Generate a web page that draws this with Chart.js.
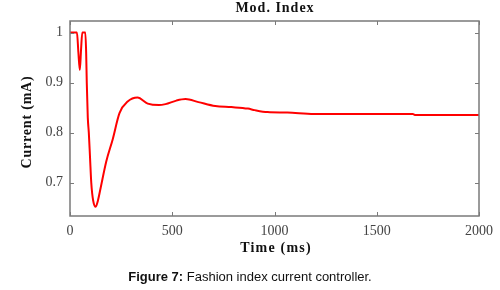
<!DOCTYPE html>
<html>
<head>
<meta charset="utf-8">
<script src="https://cdn.jsdelivr.net/npm/chart.js@4.4.1/dist/chart.umd.min.js"></script>
<style>
    html, body { margin: 0; padding: 0; background: #fff; }
    #wrap { position: relative; width: 500px; height: 290px; }
    #caption {
        position: absolute; left: 0; top: 269px; width: 500px;
        text-align: center; font: 13px "Liberation Sans", Arial, sans-serif; color: #111;
    }
</style>
</head>
<body>
<div id="wrap">
    <canvas id="chart" width="500" height="290"></canvas>
    <div id="caption"><b>Figure 7:</b> Fashion index current controller.</div>
</div>
<script>
// time (ms) and current (mA)
const timeMs = [0, 34, 41, 48, 54, 60, 75, 79, 82, 87, 92, 98, 104, 113, 126, 137, 150, 177, 209, 242, 282, 330, 380, 435, 467, 520, 565, 628, 710, 789, 870, 903, 966, 1063, 1193, 1353, 1676, 1690, 2000];
const currentMa = [1.0, 1.0, 0.96, 0.925, 0.965, 1.0, 1.0, 0.96, 0.9, 0.83, 0.8, 0.75, 0.7, 0.665, 0.652, 0.665, 0.69, 0.742, 0.787, 0.839, 0.862, 0.870, 0.858, 0.855, 0.857, 0.864, 0.867, 0.861, 0.853, 0.851, 0.848, 0.845, 0.841, 0.840, 0.837, 0.837, 0.837, 0.835, 0.835];
const xTicks = [0, 500, 1000, 1500, 2000];
const yTicks = [0.7, 0.8, 0.9, 1];
const chartTitle = 'Mod. Index';
const xTitle = 'Time (ms)';
const yTitle = 'Current (mA)';

const frame = {
    id: 'frame',
    afterDraw(chart) {
        const { ctx, chartArea: a, scales: { x, y } } = chart;
        ctx.save();
        ctx.strokeStyle = '#7a7a7a';
        ctx.lineWidth = 1.5;
        ctx.strokeRect(a.left, a.top, a.right - a.left, a.bottom - a.top);
        ctx.lineWidth = 1;
        ctx.beginPath();
        xTicks.forEach(v => {
            const px = Math.round(x.getPixelForValue(v)) + 0.5;
            ctx.moveTo(px, a.bottom); ctx.lineTo(px, a.bottom - 4);
            ctx.moveTo(px, a.top); ctx.lineTo(px, a.top + 4);
        });
        yTicks.forEach(v => {
            const py = Math.round(y.getPixelForValue(v)) + 0.5;
            ctx.moveTo(a.left, py); ctx.lineTo(a.left + 4, py);
            ctx.moveTo(a.right, py); ctx.lineTo(a.right - 4, py);
        });
        ctx.stroke();

        ctx.fillStyle = '#111';
        ctx.textAlign = 'center';
        ctx.textBaseline = 'alphabetic';
        ctx.font = 'bold 14px "Liberation Serif"';
        ctx.letterSpacing = '1px';
        ctx.fillText(chartTitle, 275, 12);
        ctx.letterSpacing = '1.2px';
        ctx.fillText(xTitle, 276, 252);
        ctx.letterSpacing = '0.8px';
        ctx.translate(27, 122);
        ctx.rotate(-Math.PI / 2);
        ctx.textBaseline = 'middle';
        ctx.fillText(yTitle, 0, 0);
        ctx.restore();
    }
};

const tickFont = { family: '"Liberation Serif"', size: 14 };

new Chart(document.getElementById('chart'), {
    type: 'line',
    data: {
        labels: timeMs,
        datasets: [{
            data: timeMs.map((t, i) => ({ x: t, y: currentMa[i] })),
            borderColor: '#ff0000',
            borderWidth: 2,
            pointRadius: 0,
            cubicInterpolationMode: 'monotone',
            fill: false
        }]
    },
    options: {
        responsive: false,
        animation: false,
        layout: { padding: { top: 21, right: 16, left: 0, bottom: 0 } },
        plugins: { legend: { display: false }, tooltip: { enabled: false } },
        scales: {
            x: {
                type: 'linear',
                min: 0,
                max: 2000,
                afterBuildTicks: s => { s.ticks = xTicks.map(v => ({ value: v })); },
                afterFit: s => { s.height = 74; },
                grid: { display: false, drawTicks: false },
                border: { display: false },
                ticks: { font: tickFont, color: '#444', padding: 7, maxRotation: 0, callback: v => String(v) }
            },
            y: {
                min: 0.6335,
                max: 1.023,
                afterBuildTicks: s => { s.ticks = yTicks.map(v => ({ value: v })); },
                afterFit: s => { s.width = 70; },
                grid: { display: false, drawTicks: false },
                border: { display: false },
                ticks: { font: tickFont, color: '#444', padding: 7, callback: v => String(v) }
            }
        }
    },
    plugins: [frame]
});
</script>
</body>
</html>
